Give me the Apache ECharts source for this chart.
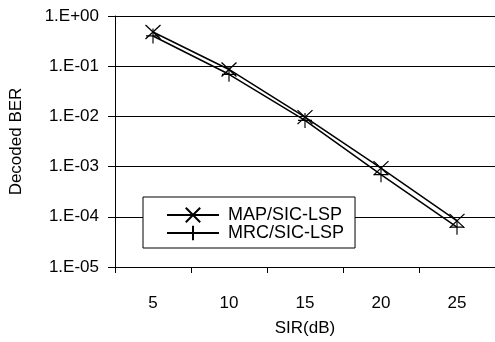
<!DOCTYPE html>
<html>
<head>
<meta charset="utf-8">
<script src="https://cdn.jsdelivr.net/npm/echarts@6/dist/echarts.min.js"></script>
<style>html,body{margin:0;padding:0;background:#fff;}#c{width:495px;height:342px;}</style>
</head>
<body>
<div id="c"></div>
<script>
var categories = ['5', '10', '15', '20', '25'];
var mapSicLsp = [0.48, 0.086, 0.0097, 0.00093, 0.000083];
var mrcSicLsp = [0.40, 0.069, 0.0083, 0.00069, 0.000062];
var yTickLabels = ['1.E-05', '1.E-04', '1.E-03', '1.E-02', '1.E-01', '1.E+00'];
var seriesNames = ['MAP/SIC-LSP', 'MRC/SIC-LSP'];

var font = 'Liberation Sans, Arial, sans-serif';
var chart = echarts.init(document.getElementById('c'), null, {renderer: 'canvas'});
var crossPath = 'path://M0,0L10,10M10,0L0,10';
var plusPath = 'path://M5,0L5,10M0,5L10,5';

chart.setOption({
  animation: false,
  backgroundColor: '#fff',
  grid: {left: 114, top: 16, width: 384, height: 254, containLabel: false},
  legend: {
    orient: 'vertical',
    left: 143, top: 197,
    padding: [9, 11, 6, 23],
    itemWidth: 52, itemHeight: 18, itemGap: 0,
    backgroundColor: '#fff',
    borderColor: '#000', borderWidth: 1,
    textStyle: {fontFamily: font, fontSize: 18, color: '#000', padding: [0, 0, 0, 4]},
    data: seriesNames
  },
  xAxis: {
    type: 'category',
    data: categories,
    boundaryGap: true,
    name: 'SIR(dB)',
    nameLocation: 'middle',
    nameGap: 53,
    nameTextStyle: {fontFamily: font, fontSize: 17, color: '#000'},
    axisLine: {lineStyle: {color: '#000', width: 1}},
    axisTick: {show: true, length: 6, inside: false, alignWithLabel: false, lineStyle: {color: '#000'}},
    axisLabel: {fontFamily: font, fontSize: 17, color: '#000', margin: 28},
    splitLine: {show: false}
  },
  yAxis: {
    type: 'log',
    logBase: 10,
    min: 1e-5,
    max: 1,
    name: 'Decoded BER',
    nameLocation: 'middle',
    nameGap: 90,
    nameTextStyle: {fontFamily: font, fontSize: 17, color: '#000'},
    axisLine: {show: true, lineStyle: {color: '#000', width: 1}},
    axisTick: {show: true, length: 7, inside: false, lineStyle: {color: '#000'}},
    axisLabel: {
      fontFamily: font, fontSize: 17, color: '#000', margin: 16,
      formatter: function (v) {
        var e = Math.round(Math.log10(v));
        return yTickLabels[e + 5];
      }
    },
    splitLine: {show: true, lineStyle: {color: '#000', width: 1}}
  },
  series: [
    {
      name: seriesNames[0],
      type: 'line',
      data: mapSicLsp,
      symbol: crossPath,
      symbolSize: [15, 14],
      showAllSymbol: true,
      lineStyle: {color: '#000', width: 1.5},
      itemStyle: {color: 'rgba(0,0,0,0)', borderColor: '#000', borderWidth: 1.2}
    },
    {
      name: seriesNames[1],
      type: 'line',
      data: mrcSicLsp,
      symbol: plusPath,
      symbolSize: [14, 15],
      showAllSymbol: true,
      lineStyle: {color: '#000', width: 1.5},
      itemStyle: {color: 'rgba(0,0,0,0)', borderColor: '#000', borderWidth: 1.2}
    }
  ]
});
</script>
</body>
</html>
